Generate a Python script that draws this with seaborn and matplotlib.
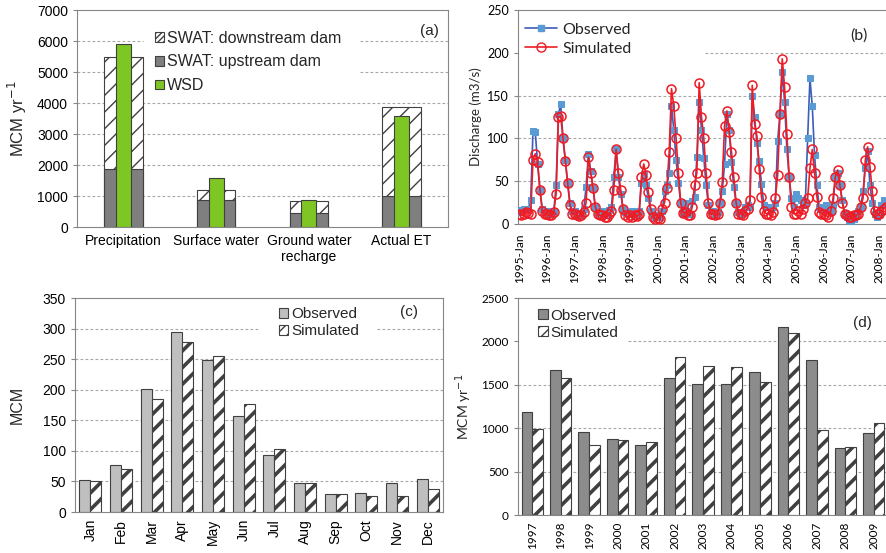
import numpy as np
import pandas as pd
import seaborn as sns
import matplotlib as mpl
import matplotlib.pyplot as plt
from matplotlib.patches import Patch
from matplotlib.lines import Line2D

# (a) water balance, MCM/yr
components = ["Precipitation", "Surface water", "Ground water\nrecharge", "Actual ET"]
swat_upstream = [1880, 880, 460, 1000]
swat_downstream = [5490, 1180, 830, 3880]
wsd = [5900, 1590, 860, 3570]

# (b) monthly discharge (m3/s), 1995-Jan .. 2008-Apr
year_ticks = ["1995-Jan", "1996-Jan", "1997-Jan", "1998-Jan", "1999-Jan", "2000-Jan", "2001-Jan",
              "2002-Jan", "2003-Jan", "2004-Jan", "2005-Jan", "2006-Jan", "2007-Jan", "2008-Jan"]
obs_flow = [
    14, 16, 17, 18, 18, 28, 109, 107, 70, 40, 18, 15,      # 1995
    15, 12, 14, 15, 45, 128, 140, 100, 75, 48, 25, 15,     # 1996
    15, 12, 11, 13, 18, 43, 82, 62, 42, 20, 14, 12,        # 1997
    15, 12, 10, 16, 20, 55, 87, 55, 35, 18, 14, 12,        # 1998
    14, 15, 12, 10, 15, 48, 58, 45, 30, 15, 10, 8,         # 1999
    10, 8, 15, 38, 45, 60, 138, 110, 75, 48, 25, 12,       # 2000
    25, 15, 12, 27, 32, 78, 143, 110, 77, 45, 22, 15,      # 2001
    15, 12, 14, 24, 38, 70, 128, 110, 72, 43, 25, 14,      # 2002
    12, 14, 20, 22, 20, 150, 125, 95, 73, 47, 22, 20,      # 2003
    20, 18, 20, 25, 97, 128, 178, 143, 87, 55, 30, 20,     # 2004
    35, 30, 28, 22, 25, 100, 170, 138, 80, 45, 20, 18,     # 2005
    20, 22, 18, 15, 22, 55, 60, 45, 28, 12, 8, 5,          # 2006
    4, 6, 10, 15, 20, 38, 65, 85, 45, 25, 12, 8,           # 2007
    12, 22, 28, 25,                                        # 2008
]
sim_flow = [
    12, 10, 12, 14, 13, 12, 75, 82, 72, 40, 15, 12,
    12, 10, 11, 14, 35, 125, 126, 100, 74, 48, 22, 12,
    12, 10, 9, 10, 14, 25, 78, 60, 42, 20, 12, 10,
    10, 8, 8, 12, 15, 40, 87, 60, 40, 18, 10, 8,
    10, 8, 10, 9, 12, 55, 70, 57, 37, 18, 8, 6,
    7, 6, 18, 25, 42, 84, 158, 138, 100, 60, 25, 13,
    14, 10, 10, 20, 45, 60, 165, 125, 100, 60, 25, 12,
    12, 10, 12, 25, 49, 115, 132, 107, 84, 55, 25, 12,
    12, 10, 15, 18, 28, 162, 117, 103, 64, 32, 15, 12,
    12, 10, 14, 30, 57, 128, 193, 160, 105, 55, 20, 12,
    12, 15, 12, 18, 25, 30, 65, 87, 60, 32, 14, 12,
    12, 10, 8, 15, 30, 55, 63, 45, 25, 12, 10, 8,
    8, 10, 10, 12, 20, 30, 75, 90, 67, 38, 15, 12,
    12, 15, 18, 20,
]

# (c) mean monthly flow volume, MCM
months = ["Jan", "Feb", "Mar", "Apr", "May", "Jun", "Jul", "Aug", "Sep", "Oct", "Nov", "Dec"]
obs_monthly = [52, 77, 201, 295, 249, 157, 94, 48, 29, 31, 48, 54]
sim_monthly = [50, 71, 185, 278, 255, 177, 103, 47, 29, 26, 26, 38]

# (d) annual flow volume, MCM/yr
years = ["1997", "1998", "1999", "2000", "2001", "2002", "2003", "2004", "2005", "2006", "2007", "2008", "2009"]
obs_annual = [1188, 1673, 954, 881, 811, 1577, 1508, 1508, 1642, 2169, 1788, 769, 950]
sim_annual = [988, 1577, 811, 865, 838, 1819, 1711, 1700, 1538, 2096, 981, 781, 1065]

sns.set_style("white")
plt.rcParams['font.family'] = ['Liberation Sans', 'DejaVu Sans']
plt.rcParams['axes.edgecolor'] = '#868686'
plt.rcParams['axes.linewidth'] = 0.8
plt.rcParams['xtick.color'] = '#868686'
plt.rcParams['ytick.color'] = '#868686'
plt.rcParams['xtick.labelcolor'] = 'black'
plt.rcParams['ytick.labelcolor'] = 'black'

CAL = ['Lato', 'DejaVu Sans']
EDGE = '#404040'


def grid_segments(ax, levels, gaps=None):
    gaps = gaps or {}
    for y in levels:
        for x0, x1 in gaps.get(y, [(0, 1)]):
            ax.axhline(y, x0, x1, color='#a6a6a6', lw=0.8, ls=(0, (2.5, 2)), zorder=0.5)


def category_ticks(ax, n, labels, rotation=0, size=10, family=None):
    ax.set_xlim(-0.5, n - 0.5)
    ax.set_xticks(np.arange(n))
    ax.set_xticklabels(labels, rotation=rotation, fontsize=size, family=family)
    ax.set_xticks(np.arange(n + 1) - 0.5, minor=True)
    ax.tick_params(axis='x', which='major', length=0, pad=5)
    ax.tick_params(axis='x', which='minor', length=4, width=0.8, direction='out')
    ax.tick_params(axis='y', length=3, width=0.8, direction='out', left=True)


def hatch_bars(bars, lw):
    for p in bars:
        p.set_hatch('//')
        if hasattr(p, 'set_hatch_linewidth'):
            p.set_hatch_linewidth(lw)


fig = plt.figure(figsize=(8.87, 5.53), dpi=100)

# ---------------- (a)
ax = fig.add_axes([0.0868, 0.5895, 0.4183, 0.3924])
df_a = pd.DataFrame({"component": components, "up": swat_upstream,
                     "down": swat_downstream, "wsd": wsd})
with mpl.rc_context({'hatch.linewidth': 1.0}):
    sns.barplot(data=df_a, x="component", y="down", color="white", saturation=1,
                width=0.415, edgecolor=EDGE, linewidth=0.8, ax=ax, zorder=2)
    hatch_bars(ax.containers[0], 1.0)
sns.barplot(data=df_a, x="component", y="up", color="#7f7f7f", saturation=1,
            width=0.415, edgecolor=EDGE, linewidth=0.8, ax=ax, zorder=3)
sns.barplot(data=df_a, x="component", y="wsd", color="#7dc623", saturation=1,
            width=0.16, edgecolor=EDGE, linewidth=0.8, ax=ax, zorder=4)
ax.set_ylim(0, 7000)
ax.set_yticks(range(0, 7001, 1000))
ax.tick_params(axis='y', labelsize=10)
category_ticks(ax, 4, components, size=10)
grid_segments(ax, [1000, 2000, 3000, 4000, 5000, 6000],
              {5000: [(0, 0.178), (0.763, 1)], 6000: [(0, 0.178), (0.763, 1)]})
ax.set_xlabel("")
ax.set_ylabel("MCM yr$^{-1}$", fontsize=12)
ax.yaxis.set_label_coords(-0.128, 0.5)
with mpl.rc_context({'hatch.linewidth': 1.0}):
    h_a = [Patch(facecolor='white', edgecolor=EDGE, hatch='//////', lw=0.8),
           Patch(facecolor='#7f7f7f', edgecolor=EDGE, lw=0.8),
           Patch(facecolor='#7dc623', edgecolor=EDGE, lw=0.8)]
ax.legend(h_a, ["SWAT: downstream dam", "SWAT: upstream dam", "WSD"],
          loc='upper left', bbox_to_anchor=(0.21, 0.905), frameon=False, fontsize=11.5,
          handlelength=0.55, handleheight=0.55, handletextpad=0.2, labelspacing=0.55,
          borderpad=0, borderaxespad=0)
ax.text(0.95, 0.905, "(a)", transform=ax.transAxes, ha='center', va='center', fontsize=11)

# ---------------- (b)
ax = fig.add_axes([0.584, 0.595, 0.4189, 0.387])
month_idx = np.arange(len(obs_flow))
sns.lineplot(x=month_idx, y=obs_flow, ax=ax, color="#3c5db8", lw=1.2, marker='s',
             markersize=4.8, markerfacecolor="#5b9bd5", markeredgecolor="#5b9bd5",
             errorbar=None, zorder=3)
sns.lineplot(x=month_idx, y=sim_flow, ax=ax, color="#ee1c25", lw=1.2, marker='o',
             markersize=6.5, markerfacecolor='none', markeredgecolor="#ee1c25",
             markeredgewidth=1.1, errorbar=None, zorder=4)
ax.set_ylim(0, 250)
ax.set_yticks(range(0, 251, 50))
ax.set_xlim(-0.5, 160.5)
ax.set_xticks(np.arange(len(year_ticks)) * 12)
ax.set_xticklabels(year_ticks, rotation=90, fontsize=8.5, family=CAL)
ax.set_xticks(np.arange(0, 161, 6), minor=True)
ax.tick_params(axis='x', which='major', length=4, width=0.8, pad=3)
ax.tick_params(axis='x', which='minor', length=4, width=0.8)
ax.tick_params(axis='y', length=3, width=0.8, left=True, labelsize=9)
for t in ax.get_yticklabels():
    t.set_family(CAL)
ax.spines['right'].set_visible(False)
grid_segments(ax, [50, 100, 150, 200], {200: [(0.503, 1)]})
ax.set_ylabel("Discharge (m3/s)", fontsize=9.5, family=CAL)
ax.yaxis.set_label_coords(-0.098, 0.5)
h_b = [Line2D([], [], color="#3c5db8", lw=1.2, marker='s', ms=4.8, mfc="#5b9bd5", mec="#5b9bd5"),
       Line2D([], [], color="#ee1c25", lw=1.2, marker='o', ms=6.5, mfc='none', mec="#ee1c25")]
ax.legend(h_b, ["Observed", "Simulated"], loc='upper left', bbox_to_anchor=(0.02, 0.94),
          frameon=False, prop={'family': CAL, 'size': 11.5}, handlelength=2.0,
          handletextpad=0.3, labelspacing=0.3, borderpad=0, borderaxespad=0)
ax.text(0.918, 0.88, "(b)", transform=ax.transAxes, ha='center', va='center',
        fontsize=11.5, family=CAL)

# ---------------- (c)
ax = fig.add_axes([0.0846, 0.0741, 0.4149, 0.387])
df_c = pd.DataFrame({"month": months * 2, "value": obs_monthly + sim_monthly,
                     "series": ["Observed"] * 12 + ["Simulated"] * 12})
with mpl.rc_context({'hatch.linewidth': 2.6}):
    sns.barplot(data=df_c, x="month", y="value", hue="series", palette=["#bfbfbf", "white"],
                saturation=1, width=0.72, edgecolor=EDGE, linewidth=0.8, legend=False,
                ax=ax, zorder=2)
    hatch_bars(ax.containers[1], 2.6)
ax.set_ylim(0, 350)
ax.set_yticks(range(0, 351, 50))
ax.tick_params(axis='y', labelsize=10)
category_ticks(ax, 12, months, rotation=90, size=10)
grid_segments(ax, [50, 100, 150, 200, 250, 300], {300: [(0, 0.503), (0.82, 1)]})
ax.set_xlabel("")
ax.set_ylabel("MCM", fontsize=11.5)
ax.yaxis.set_label_coords(-0.137, 0.5)
with mpl.rc_context({'hatch.linewidth': 2.6}):
    h_c = [Patch(facecolor='#bfbfbf', edgecolor=EDGE, lw=0.8),
           Patch(facecolor='white', edgecolor=EDGE, hatch='///', lw=0.8)]
ax.legend(h_c, ["Observed", "Simulated"], loc='upper left', bbox_to_anchor=(0.555, 0.956),
          frameon=False, fontsize=11, handlelength=0.6, handleheight=0.6,
          handletextpad=0.2, labelspacing=0.2, borderpad=0, borderaxespad=0)
ax.text(0.908, 0.935, "(c)", transform=ax.transAxes, ha='center', va='center', fontsize=11)

# ---------------- (d)
ax = fig.add_axes([0.584, 0.0687, 0.4171, 0.3924])
df_d = pd.DataFrame({"year": years * 2, "value": obs_annual + sim_annual,
                     "series": ["Observed"] * 13 + ["Simulated"] * 13})
with mpl.rc_context({'hatch.linewidth': 2.6}):
    sns.barplot(data=df_d, x="year", y="value", hue="series", palette=["#8c8c8c", "white"],
                saturation=1, width=0.75, edgecolor=EDGE, linewidth=0.8, legend=False,
                ax=ax, zorder=2)
    hatch_bars(ax.containers[1], 2.6)
ax.set_ylim(0, 2500)
ax.set_yticks(range(0, 2501, 500))
category_ticks(ax, 13, years, rotation=90, size=8.5, family=CAL)
ax.tick_params(axis='y', labelsize=8.5)
for t in ax.get_yticklabels():
    t.set_family(CAL)
ax.spines['right'].set_visible(False)
grid_segments(ax, [500, 1000, 1500, 2000], {2000: [(0.297, 1)]})
ax.set_xlabel("")
ax.set_ylabel("MCM yr$^{-1}$", fontsize=10, family=CAL)
ax.yaxis.set_label_coords(-0.12, 0.5)
with mpl.rc_context({'hatch.linewidth': 2.6}):
    h_d = [Patch(facecolor='#8c8c8c', edgecolor=EDGE, lw=0.8),
           Patch(facecolor='white', edgecolor=EDGE, hatch='///', lw=0.8)]
ax.legend(h_d, ["Observed", "Simulated"], loc='upper left', bbox_to_anchor=(0.055, 0.951),
          frameon=False, fontsize=11, handlelength=0.6, handleheight=0.6,
          handletextpad=0.2, labelspacing=0.2, borderpad=0, borderaxespad=0)
ax.text(0.93, 0.885, "(d)", transform=ax.transAxes, ha='center', va='center', fontsize=11)

fig.savefig("out.png", dpi=100)
